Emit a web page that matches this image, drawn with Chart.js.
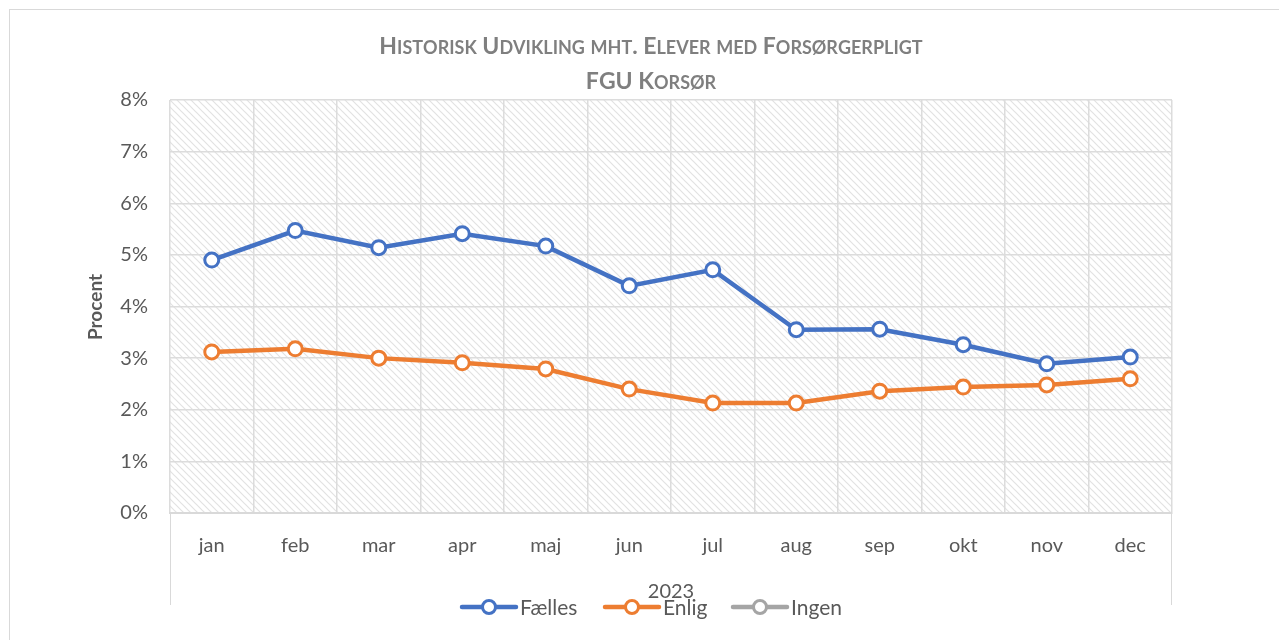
<!DOCTYPE html>
<html>
<head>
<meta charset="utf-8">
<script src="https://cdn.jsdelivr.net/npm/chart.js"></script>
<style>
  html,body{margin:0;padding:0;background:#fff}
  #wrap{width:1279px;height:640px;position:relative}
</style>
</head>
<body>
<div id="wrap"><canvas id="grafik" width="1279" height="640"></canvas></div>
<script>
// data
const maaneder = ["jan","feb","mar","apr","maj","jun","jul","aug","sep","okt","nov","dec"];
const faelles = [4.90,5.47,5.14,5.41,5.17,4.40,4.71,3.55,3.56,3.26,2.89,3.02];
const enlig   = [3.12,3.18,3.00,2.91,2.79,2.40,2.13,2.13,2.36,2.44,2.48,2.60];
const ingen   = [null,null,null,null,null,null,null,null,null,null,null,null];
const yTicks  = [0,1,2,3,4,5,6,7,8];
const aar = "2023";
const titel1 = "Historisk Udvikling mht. Elever med Forsørgerpligt";
const titel2 = "FGU Korsør";

const BLAA = "#4472C4", ORANGE = "#ED7D31", GRAA = "#A5A5A5";
const FONT = "Lato, 'Open Sans', sans-serif";
const TXT = "#595959";

// skraveret baggrund
function lavMoenster() {
  const c = document.createElement("canvas");
  c.width = 7; c.height = 7;
  const x = c.getContext("2d");
  x.strokeStyle = "#e2e2e2";
  x.lineWidth = 1.2;
  x.beginPath();
  x.moveTo(-1,-1); x.lineTo(8,8);
  x.moveTo(-8,-1); x.lineTo(1,8);
  x.moveTo(6,-1); x.lineTo(15,8);
  x.stroke();
  return x.createPattern(c, "repeat");
}

// titel med smaa kapitaeler
function smaaKaps(ctx, tekst, cx, y, stor, lille) {
  const dele = [];
  for (const ch of tekst) {
    const erStor = ch === ch.toUpperCase() && ch !== ch.toLowerCase();
    dele.push({t: ch.toUpperCase(), s: (erStor || ch === " " || ch === ".") ? stor : lille});
  }
  let w = 0;
  dele.forEach(d => { ctx.font = `bold ${d.s}px ${FONT}`; w += ctx.measureText(d.t).width; });
  let x = cx - w/2;
  ctx.textAlign = "left";
  ctx.textBaseline = "alphabetic";
  dele.forEach(d => {
    ctx.font = `bold ${d.s}px ${FONT}`;
    ctx.fillText(d.t, x, y);
    x += ctx.measureText(d.t).width;
  });
}

const pynt = {
  id: "pynt",
  beforeDraw(chart) {
    const {ctx, chartArea: a} = chart;
    ctx.save();
    ctx.fillStyle = lavMoenster();
    ctx.fillRect(a.left, a.top, a.right - a.left, a.bottom - a.top);
    ctx.restore();
  },
  afterDraw(chart) {
    const {ctx, chartArea: a} = chart;
    ctx.save();
    // ramme
    ctx.strokeStyle = "#d9d9d9";
    ctx.lineWidth = 1;
    ctx.strokeRect(9.5, 9.5, 1300, 700);
    // lodrette linjer for kategori-gruppen
    ctx.beginPath();
    ctx.moveTo(a.left + 0.5, a.bottom); ctx.lineTo(a.left + 0.5, 605);
    ctx.moveTo(a.right - 0.5, a.bottom); ctx.lineTo(a.right - 0.5, 605);
    ctx.stroke();
    // titel
    ctx.fillStyle = "#7f7f7f";
    smaaKaps(ctx, titel1, 651, 54, 23, 18);
    smaaKaps(ctx, titel2, 651, 89, 23, 18);
    // akse-titel
    ctx.fillStyle = TXT;
    ctx.font = `bold 19px ${FONT}`;
    ctx.translate(96, 307);
    ctx.rotate(-Math.PI/2);
    ctx.textAlign = "center";
    ctx.textBaseline = "middle";
    ctx.fillText("Procent", 0, 0);
    ctx.setTransform(1,0,0,1,0,0);
    // gruppe-etiket
    ctx.font = `20px ${FONT}`;
    ctx.fillText(aar, (a.left + a.right)/2, 592);
    // forklaring
    const serier = [
      {navn: "Fælles", farve: BLAA, x: 462},
      {navn: "Enlig", farve: ORANGE, x: 605},
      {navn: "Ingen", farve: GRAA, x: 733}
    ];
    const ly = 607;
    serier.forEach(s => {
      ctx.strokeStyle = s.farve;
      ctx.lineWidth = 4.5;
      ctx.lineCap = "round";
      ctx.beginPath(); ctx.moveTo(s.x, ly); ctx.lineTo(s.x + 54, ly); ctx.stroke();
      ctx.fillStyle = "#fff";
      ctx.lineWidth = 3;
      ctx.beginPath(); ctx.arc(s.x + 27, ly, 6.5, 0, Math.PI*2); ctx.fill(); ctx.stroke();
      ctx.fillStyle = TXT;
      ctx.font = `21px ${FONT}`;
      ctx.textAlign = "left";
      ctx.textBaseline = "middle";
      ctx.fillText(s.navn, s.x + 58, ly + 1);
    });
    ctx.restore();
  }
};

function serie(navn, data, farve) {
  return {
    label: navn, data, borderColor: farve, backgroundColor: "#fff",
    borderWidth: 4.5, pointRadius: 7, pointBorderWidth: 3,
    pointBackgroundColor: "#fff", pointBorderColor: farve,
    tension: 0, spanGaps: false
  };
}

new Chart(document.getElementById("grafik"), {
  type: "line",
  data: {
    labels: maaneder,
    datasets: [serie("Fælles", faelles, BLAA), serie("Enlig", enlig, ORANGE), serie("Ingen", ingen, GRAA)]
  },
  options: {
    responsive: false,
    animation: false,
    layout: {padding: {left: 0, top: 100, right: 107, bottom: 0}},
    plugins: {legend: {display: false}, title: {display: false}, tooltip: {enabled: false}},
    scales: {
      x: {
        offset: true,
        grid: {color: "#dcdcdc", lineWidth: 1.5, offset: true, drawTicks: false},
        border: {color: "#d9d9d9", width: 2},
        ticks: {color: TXT, font: {family: FONT, size: 20}, padding: 21, maxRotation: 0},
        afterFit: s => { s.height = 127; }
      },
      y: {
        min: 0, max: 8,
        afterBuildTicks: s => { s.ticks = yTicks.map(v => ({value: v})); },
        grid: {color: "#dcdcdc", lineWidth: 1.5, drawTicks: false},
        border: {display: false},
        ticks: {color: TXT, font: {family: FONT, size: 20}, padding: 22, callback: v => v + "%"},
        afterFit: s => { s.width = 170; }
      }
    }
  },
  plugins: [pynt]
});
</script>
</body>
</html>
